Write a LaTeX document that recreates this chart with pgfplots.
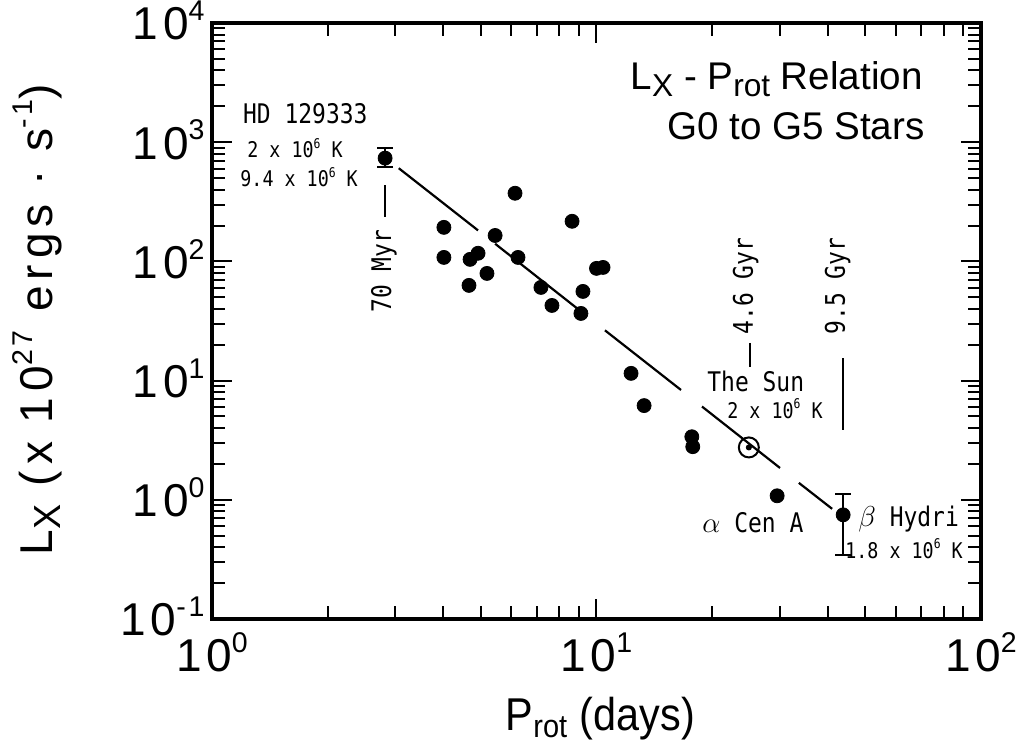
\documentclass[border=0pt]{standalone}
\usepackage{graphicx}
\usepackage{fontspec}
\setmainfont{Liberation Sans}
\newfontfamily\axfont[LetterSpace=10]{Liberation Sans}
\newfontfamily\ylabfont[LetterSpace=13]{Liberation Sans}
\newfontfamily\xlabfont[FakeStretch=0.9]{Liberation Sans}
\newfontfamily\annfont[FakeStretch=0.85]{DejaVu Sans Mono}
\usepackage{pgfplots}
\pgfplotsset{compat=1.18}
\usetikzlibrary{calc}

\newcommand{\sups}[1]{\raisebox{0.42em}{\scalebox{0.62}{#1}}}
\newcommand{\subs}[1]{\raisebox{-0.18em}{\scalebox{0.82}{#1}}}
\newcommand{\ticfont}{\fontsize{23}{26}\axfont}
\newcommand{\titfont}{\fontsize{19.3}{22}\selectfont}
\newcommand{\annA}{\fontsize{13.5}{15}\annfont}
\newcommand{\annB}{\fontsize{10.8}{12}\annfont}

\begin{document}
\begin{tikzpicture}
\begin{axis}[
  name=ax,
  xmode=log, ymode=log,
  xmin=1, xmax=100, ymin=0.1, ymax=10000,
  width=384.5pt, height=298pt, scale only axis,
  clip=false,
  axis line style={line width=1.6pt},
  every tick/.style={black, line width=1pt},
  major tick length=10pt, minor tick length=6.5pt,
  xtick={1,10,100},
  xticklabels={10\sups{0}, 10\sups{1}, 10\sups{2}},
  ytick={0.1,1,10,100,1000,10000},
  yticklabels={10\sups{-1}, 10\sups{0}, 10\sups{1}, 10\sups{2}, 10\sups{3}, 10\sups{4}},
  xticklabel style={font=\ticfont, anchor=base, inner sep=0pt, yshift=-26.5pt},
  yticklabel style={font=\ticfont, anchor=base east, inner sep=0pt, xshift=-3.5pt, yshift=-8.5pt},
  xlabel={P\textsubscript{rot} (days)},
  xlabel style={font=\fontsize{23}{26}\xlabfont, at={(axis description cs:0.505,0)}, anchor=base, yshift=-55.5pt},
  ylabel={L\subs{X} (x 10\sups{27} ergs · s\sups{-1})},
  ylabel style={font=\fontsize{23}{26}\ylabfont, at={(axis description cs:-0.208,0.502)}, anchor=base},
]

% G0-G5 stars
\addplot[only marks, mark=*, mark size=3.5pt] coordinates {
  (4.01,193) (4.01,108) (4.69,104) (4.92,117) (4.66,62.9) (5.19,79.3)
  (5.45,165) (6.14,373) (6.25,108) (7.17,60.5) (7.66,42.7) (8.64,217)
  (9.11,36.6) (9.22,56) (10.0,87.4) (10.4,89) (12.3,11.5) (13.3,6.17)
  (17.7,3.38) (17.8,2.79) (29.5,1.08)
};

% stars with error bars
\addplot[only marks, mark=*, mark size=3.5pt,
  error bars/.cd, y dir=both, y explicit,
  error bar style={line width=1pt},
  error mark options={rotate=90, mark size=4pt, line width=1pt}]
  coordinates {
  (2.82,735) += (0,156) -= (0,118)
  (43.8,0.748) += (0,0.372) -= (0,0.403)
};

% the Sun
\addplot[only marks, mark=o, mark size=5pt, mark options={line width=1pt}] coordinates {(24.9,2.75)};
\addplot[only marks, mark=*, mark size=1.3pt] coordinates {(24.9,2.75)};

% broken fit line
\addplot[line width=1.1pt] coordinates {(3.06,605) (4.92,182)};
\addplot[line width=1.1pt] coordinates {(5.45,140.6) (8.90,40.4)};
\addplot[line width=1.1pt] coordinates {(10.52,26.4) (16.59,8.34)};
\addplot[line width=1.1pt] coordinates {(18.81,6.06) (30.01,1.85)};
\addplot[line width=1.1pt] coordinates {(33.6,1.387) (41.0,0.84)};

% title
\node[anchor=base east, inner sep=0pt, font=\titfont] at (rel axis cs:0.9246,0.8876)
  {L\subs{X} - P\subs{rot} Relation};
\node[anchor=base east, inner sep=0pt, font=\titfont] at (rel axis cs:0.9272,0.8037)
  {G0 to G5 Stars};

% annotations
\node[anchor=base west, inner sep=0pt, font=\annA] at (rel axis cs:0.040,0.832) {HD 129333};
\node[anchor=base west, inner sep=0pt, font=\annB] at (rel axis cs:0.0455,0.775) {2 x 10\sups{6} K};
\node[anchor=base west, inner sep=0pt, font=\annB] at (rel axis cs:0.0364,0.725) {9.4 x 10\sups{6} K};

\node[rotate=90, anchor=base west, inner sep=0pt, font=\annA] at (rel axis cs:0.2328,0.5134) {70 Myr};
\draw[line width=1pt] (rel axis cs:0.2250,0.6745) -- (rel axis cs:0.2250,0.7282);

\node[rotate=90, anchor=base west, inner sep=0pt, font=\annA] at (rel axis cs:0.7035,0.4765) {4.6 Gyr};
\draw[line width=1pt] (rel axis cs:0.6996,0.4631) -- (rel axis cs:0.6996,0.4228);

\node[rotate=90, anchor=base west, inner sep=0pt, font=\annA] at (rel axis cs:0.8231,0.4765) {9.5 Gyr};
\draw[line width=1pt] (rel axis cs:0.8205,0.4379) -- (rel axis cs:0.8205,0.3171);

\node[anchor=base west, inner sep=0pt, font=\annA] at (rel axis cs:0.6437,0.3809) {The Sun};
\node[anchor=base west, inner sep=0pt, font=\annB] at (rel axis cs:0.6697,0.3372) {2 x 10\sups{6} K};

\node[anchor=base west, inner sep=0pt, font=\annA] at (rel axis cs:0.6372,0.1443) {$\alpha$ Cen A};
\node[anchor=base west, inner sep=0pt, font=\annA] at (rel axis cs:0.8401,0.1544) {$\beta$ Hydri};
\node[anchor=base west, inner sep=0pt, font=\annB] at (rel axis cs:0.8231,0.1023) {1.8 x 10\sups{6} K};
\end{axis}
\pgfresetboundingbox
\path[use as bounding box] ($(ax.south west)+(-106pt,-68pt)$) rectangle ($(ax.north east)+(19pt,11.5pt)$);
\end{tikzpicture}
\end{document}
